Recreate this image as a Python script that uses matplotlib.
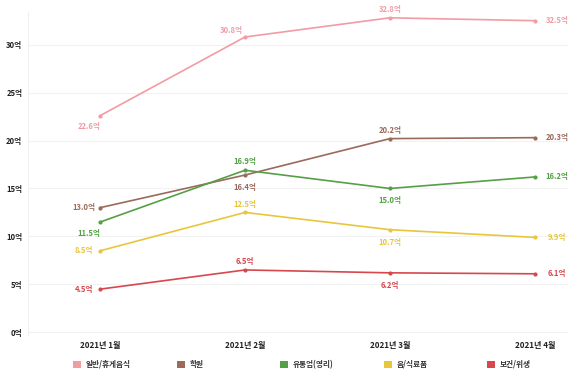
import matplotlib
matplotlib.use("Agg")
import matplotlib.pyplot as plt
from matplotlib.patches import Rectangle

plt.rcParams['font.family'] = ['Noto Sans CJK KR', 'DejaVu Sans']

months = ["2021년 1월", "2021년 2월", "2021년 3월", "2021년 4월"]
series_names = ["일반/휴게음식", "학원", "유통업(영리)", "음/식료품", "보건/위생"]
general_food = [22.6, 30.8, 32.8, 32.5]
academy = [13.0, 16.4, 20.2, 20.3]
retail = [11.5, 16.9, 15.0, 16.2]
groceries = [8.5, 12.5, 10.7, 9.9]
health = [4.5, 6.5, 6.2, 6.1]
yticks = [0, 5, 10, 15, 20, 25, 30]

colors = ["#F19CA4", "#9A6A5C", "#55A046", "#E8C63C", "#D8474C"]
all_series = [general_food, academy, retail, groceries, health]
# label placement per point: (dx, dy) in points
offsets = [
    [(-8, -8), (-10, 5), (0, 6), (16, 0)],
    [(-12, 0), (0, -9), (0, 6), (16, 0)],
    [(-8, -8), (0, 6), (0, -9), (16, 0)],
    [(-12, 0), (0, 6), (0, -9), (16, 0)],
    [(-12, 0), (0, 6), (0, -9), (16, 0)],
]

fig = plt.figure(figsize=(5.79, 3.77), dpi=100)
ax = fig.add_axes([0.048, 0.111, 0.933, 0.857])

x = list(range(len(months)))
for vals, col, offs in zip(all_series, colors, offsets):
    ax.plot(x, vals, color=col, lw=1.2, marker="o", ms=2.0)
    for xi, v, (dx, dy) in zip(x, vals, offs):
        ax.annotate(f"{v:.1f}억", (xi, v), xytext=(dx, dy), textcoords="offset points",
                    ha="center", va="center", fontsize=5.5, fontweight="bold", color=col)

ax.set_xlim(-0.5, 3.23)
ax.set_ylim(-0.3, 33.4)
ax.set_yticks(yticks)
ax.set_yticklabels([f"{t}억" for t in yticks], fontsize=5.5, fontweight="bold", color="#222222")
ax.set_xticks(x)
ax.set_xticklabels(months, fontsize=5.8, fontweight="bold", color="#222222")
ax.tick_params(length=0, pad=4)
ax.grid(axis="y", color="#F2F2F2", lw=0.8)
for s in ["top", "right", "bottom"]:
    ax.spines[s].set_visible(False)
ax.spines["left"].set_color("#F0F0F0")

# legend row, evenly spaced like the original
W, H = 579, 377
for i, (name, col) in enumerate(zip(series_names, colors)):
    x0 = 73 + i * 103.5
    fig.patches.append(Rectangle((x0 / W, (H - 368) / H), 8 / W, 7 / H,
                                 transform=fig.transFigure, facecolor=col, edgecolor="none"))
    fig.text((x0 + 13) / W, (H - 364.5) / H, name, fontsize=5.5, fontweight="bold",
             color="#333333", va="center", ha="left")

fig.savefig("out.png", dpi=100)
